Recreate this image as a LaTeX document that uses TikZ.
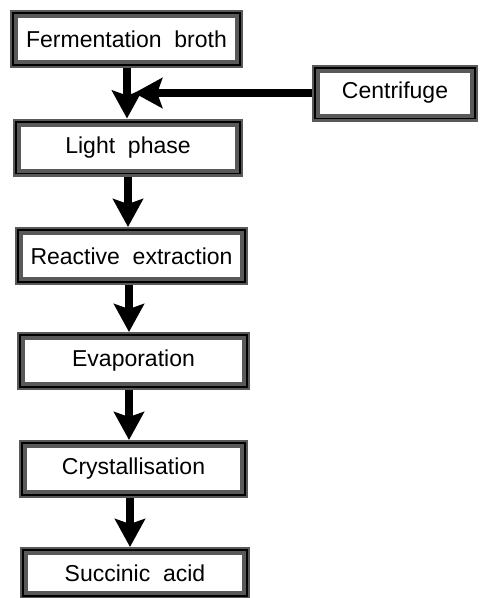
\documentclass[tikz,border=0pt]{standalone}
\usepackage{fontspec}
\setmainfont{Liberation Sans}
\usepackage{tikz}
\usetikzlibrary{arrows.meta,positioning,calc}

\begin{document}
\begin{tikzpicture}[x=1pt, y=-1pt,
    stepbox/.style={draw=black!65, line width=8pt, fill=white, minimum height=50pt,
                    inner sep=0pt, font=\fontsize{23}{27}\selectfont},
    flow/.style={line width=8pt, -{Stealth[length=28pt, width=30pt, inset=5pt]}}]
    \useasboundingbox (0,0) rectangle (481,598);

    % Process steps
    \node[stepbox, minimum width=225pt] (ferm)  at (126.5, 39)  {Fermentation\ \ broth};
    \node[stepbox, minimum width=222pt] (light) at (128, 147.5) {Light\ \ phase};
    \node[stepbox, minimum width=225pt] (react) at (131.5, 256) {Reactive\ \ extraction};
    \node[stepbox, minimum width=225pt] (evap)  at (133.5, 361) {Evaporation};
    \node[stepbox, minimum width=221pt] (cryst) at (133.5, 469) {Crystallisation};
    \node[stepbox, minimum width=222pt, minimum height=44pt] (succ) at (135, 573) {Succinic\ \ acid};
    \node[stepbox, minimum width=158pt, minimum height=49pt] (centr) at (395, 93) {Centrifuge};

    % Dark inner edge of every frame
    \foreach \n in {ferm,light,react,evap,cryst,succ,centr}
        \draw[line width=1.8pt] ($(\n.south west)+(3.1,-3.1)$) rectangle ($(\n.north east)+(-3.1,3.1)$);

    % Arrows between steps
    \coordinate (join) at ($(ferm.south)!0.5!(light.north) + (7,0)$);
    \draw[flow] ($(ferm.south) + (0.5,0)$) -- ($(ferm.south |- light.north) + (0.5,0)$);
    \draw[flow] (light.south) -- (light.south |- react.north);
    \draw[flow] ($(react.south) + (-2.5,0)$) -- ($(react.south |- evap.north) + (-2.5,0)$);
    \draw[flow] ($(evap.south) + (-4.5,0)$) -- ($(evap.south |- cryst.north) + (-4.5,0)$);
    \draw[flow] ($(cryst.south) + (-3.5,0)$) -- ($(cryst.south |- succ.north) + (-3.5,0)$);
    \draw[flow] (centr.west) -- (centr.west -| join);
\end{tikzpicture}
\end{document}
